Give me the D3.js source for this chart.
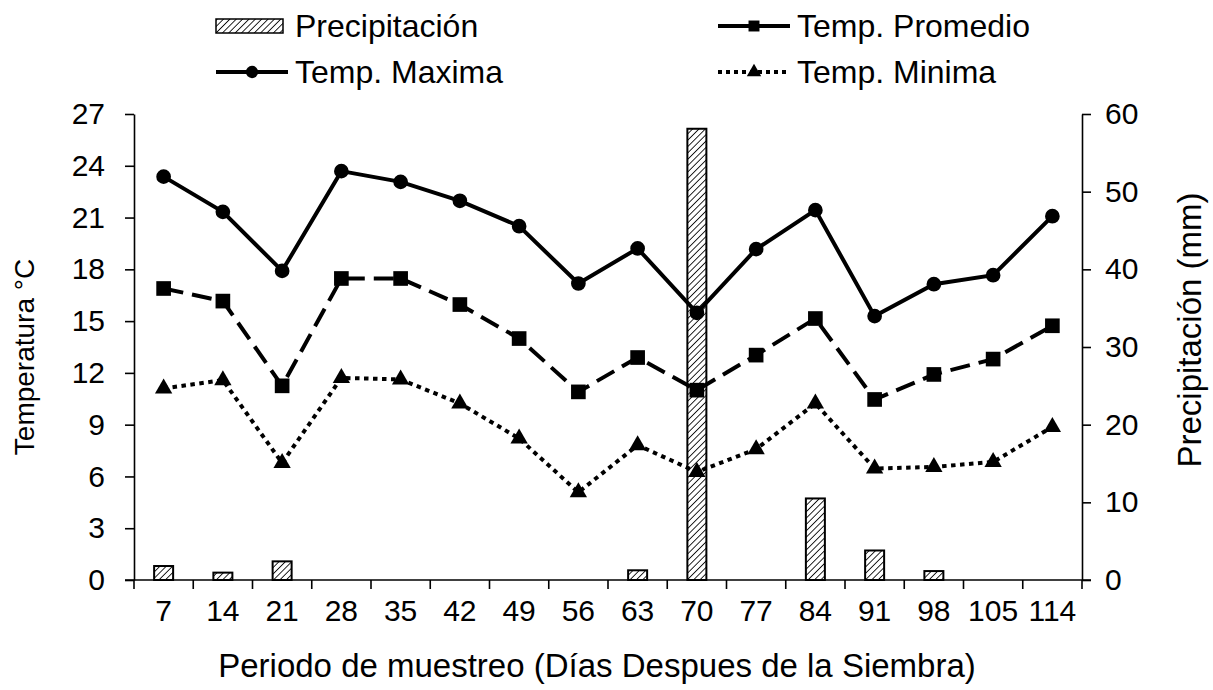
<!DOCTYPE html>
<html>
<head>
<meta charset="utf-8">
<script src="https://cdn.jsdelivr.net/npm/d3@7"></script>
<style>
  html, body { margin: 0; padding: 0; background: #fff; }
  svg { display: block; }
  text { font-family: "Liberation Sans", Arial, sans-serif; fill: #000; }
</style>
</head>
<body>
<svg id="chart" width="1213" height="690"></svg>
<script>
// ---- Data ----
const categories = ["7","14","21","28","35","42","49","56","63","70","77","84","91","98","105","114"];
const precipitacion = [1.8, 0.95, 2.4, 0, 0, 0, 0, 0, 1.25, 58.1, 0, 10.5, 3.8, 1.15, 0, 0];
const tempMaxima   = [23.37, 21.33, 17.91, 23.69, 23.07, 21.97, 20.5, 17.18, 19.21, 15.48, 19.17, 21.43, 15.29, 17.14, 17.66, 21.08];
const tempPromedio = [16.89, 16.16, 11.25, 17.47, 17.47, 15.96, 13.99, 10.9, 12.89, 11.0, 13.03, 15.15, 10.46, 11.91, 12.8, 14.73];
const tempMinima   = [11.1, 11.58, 6.78, 11.71, 11.62, 10.23, 8.2, 5.08, 7.81, 6.26, 7.58, 10.23, 6.46, 6.55, 6.84, 8.87];
const leftTicks  = [0, 3, 6, 9, 12, 15, 18, 21, 24, 27];
const rightTicks = [0, 10, 20, 30, 40, 50, 60];

// ---- Layout ----
const svg = d3.select("#chart");
const L = 134, R = 1082, T = 114, B = 580;
const FS = 30;

const x = d3.scaleBand().domain(categories).range([L, R]).padding(0);
const yT = d3.scaleLinear().domain([0, 27]).range([B, T]);
const yP = d3.scaleLinear().domain([0, 60]).range([B, T]);

// hatch pattern
const defs = svg.append("defs");
const pat = defs.append("pattern")
  .attr("id", "hatch").attr("patternUnits", "userSpaceOnUse")
  .attr("width", 4.5).attr("height", 4.5)
  .attr("patternTransform", "rotate(45)");
pat.append("rect").attr("width", 4.5).attr("height", 4.5).attr("fill", "#fff");
pat.append("line").attr("x1", 0).attr("y1", 0).attr("x2", 0).attr("y2", 4.5)
  .attr("stroke", "#000").attr("stroke-width", 1.7);

// bars
const barW = 19;
svg.append("g").selectAll("rect").data(categories.map((c, i) => ({c, v: precipitacion[i]})).filter(d => d.v > 0))
  .join("rect")
  .attr("x", d => x(d.c) + x.bandwidth() / 2 - barW / 2)
  .attr("y", d => yP(d.v))
  .attr("width", barW)
  .attr("height", d => B - yP(d.v))
  .attr("fill", "url(#hatch)")
  .attr("stroke", "#000").attr("stroke-width", 2);

// axes
const axL = svg.append("g").attr("transform", `translate(${L},0)`)
  .call(d3.axisLeft(yT).tickValues(leftTicks).tickSize(9).tickSizeOuter(0).tickPadding(20));
const axR = svg.append("g").attr("transform", `translate(${R},0)`)
  .call(d3.axisRight(yP).tickValues(rightTicks).tickSize(9).tickSizeOuter(0).tickPadding(14));
const axB = svg.append("g").attr("transform", `translate(0,${B})`)
  .call(d3.axisBottom(x).tickSize(0).tickPadding(20));
[axL, axR, axB].forEach(g => {
  g.selectAll("text").style("font-family", '"Liberation Sans", Arial, sans-serif').style("font-size", FS + "px").attr("fill", "#000");
  g.selectAll("line").attr("stroke", "#000").attr("stroke-width", 1.6);
  g.select(".domain").attr("stroke", "#000").attr("stroke-width", 1.6);
});
axB.select(".domain").remove();
svg.append("line").attr("x1", L - 9).attr("x2", R + 9).attr("y1", B).attr("y2", B)
  .attr("stroke", "#000").attr("stroke-width", 1.6);
const bounds = categories.map(c => x(c)).concat([R]);
svg.append("g").selectAll("line").data(bounds).join("line")
  .attr("x1", d => d).attr("x2", d => d).attr("y1", B).attr("y2", B + 9)
  .attr("stroke", "#000").attr("stroke-width", 1.6);

// lines
const cx = c => x(c) + x.bandwidth() / 2;
function series(vals, dash) {
  const line = d3.line().x((d, i) => cx(categories[i])).y(d => yT(d));
  svg.append("path").datum(vals).attr("d", line)
    .attr("fill", "none").attr("stroke", "#000").attr("stroke-width", 4)
    .attr("stroke-dasharray", dash);
}
series(tempMaxima, null);
series(tempPromedio, "20,9");
series(tempMinima, "4.5,4.5");

const sym = (type, size) => d3.symbol().type(type).size(size)();
function markers(vals, type, size) {
  svg.append("g").selectAll("path").data(vals).join("path")
    .attr("transform", (d, i) => `translate(${cx(categories[i])},${yT(d)})`)
    .attr("d", sym(type, size)).attr("fill", "#000");
}
markers(tempMaxima, d3.symbolCircle, 170);
markers(tempPromedio, d3.symbolSquare, 215);
markers(tempMinima, d3.symbolTriangle, 130);

// axis titles
svg.append("text").attr("transform", `translate(34,357) rotate(-90)`)
  .attr("text-anchor", "middle").style("font-size", "28px").text("Temperatura °C");
svg.append("text").attr("transform", `translate(1201,330) rotate(-90)`)
  .attr("text-anchor", "middle").style("font-size", "33px").text("Precipitación (mm)");
svg.append("text").attr("x", 597).attr("y", 677)
  .attr("text-anchor", "middle").style("font-size", "33px").text("Periodo de muestreo (Días Despues de la Siembra)");

// legend
const lg = svg.append("g");
const legendItems = [
  {name: "Precipitación", type: "bar", x: 216, y: 26},
  {name: "Temp. Promedio", type: "line", dash: null, sym: d3.symbolSquare, x: 718, y: 26},
  {name: "Temp. Maxima", type: "line", dash: null, sym: d3.symbolCircle, x: 216, y: 72},
  {name: "Temp. Minima", type: "line", dash: "4,4", sym: d3.symbolTriangle, x: 718, y: 72}
];
legendItems.forEach(it => {
  const g = lg.append("g").attr("transform", `translate(${it.x},${it.y})`);
  if (it.type === "bar") {
    g.append("rect").attr("x", 0).attr("y", -7).attr("width", 67).attr("height", 14)
      .attr("fill", "url(#hatch)").attr("stroke", "#000").attr("stroke-width", 1.5);
  } else {
    g.append("line").attr("x1", 0).attr("x2", 72).attr("y1", 0).attr("y2", 0)
      .attr("stroke", "#000").attr("stroke-width", 4).attr("stroke-dasharray", it.dash);
    g.append("path").attr("transform", "translate(36,0)").attr("d", sym(it.sym, it.sym === d3.symbolTriangle ? 90 : 120)).attr("fill", "#000");
  }
  g.append("text").attr("x", 79).attr("y", 11).style("font-size", "32px").text(it.name);
});
</script>
</body>
</html>
